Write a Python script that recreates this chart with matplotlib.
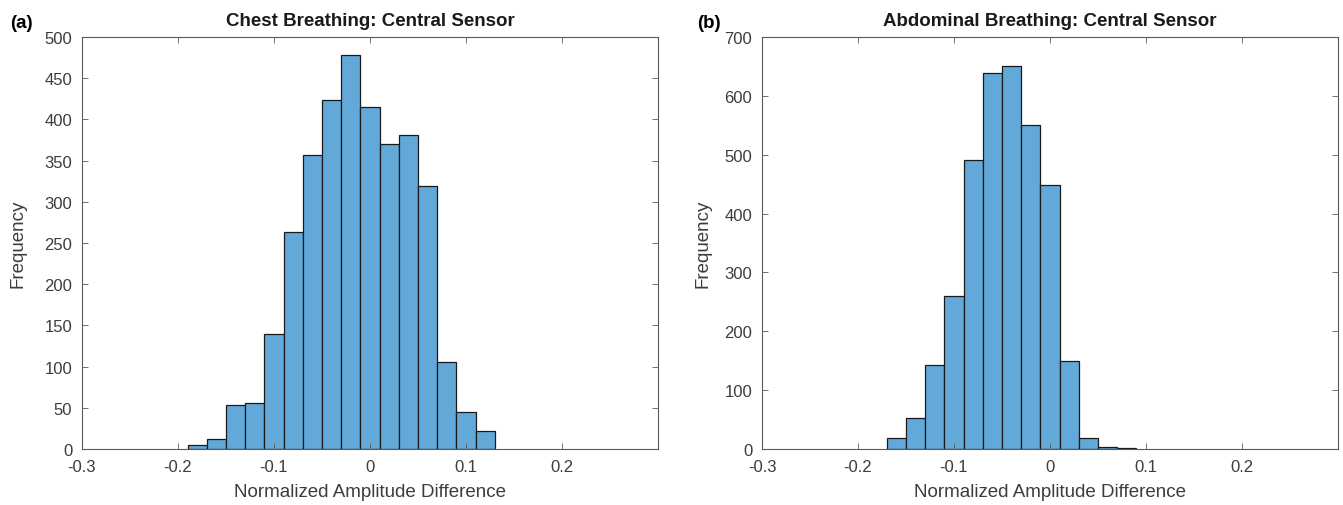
import numpy as np
import matplotlib.pyplot as plt

plt.rcParams['font.family'] = ['Liberation Sans', 'DejaVu Sans']

# Histogram data (bin width 0.02)
chest_edges = np.round(np.arange(-0.19, 0.13 + 0.001, 0.02), 2)
chest_counts = [5, 12, 54, 56, 139, 263, 357, 423, 478, 415, 370, 381, 319, 105, 45, 22]

abd_edges = np.round(np.arange(-0.17, 0.09 + 0.001, 0.02), 2)
abd_counts = [18, 52, 143, 260, 491, 638, 650, 550, 448, 150, 19, 4, 2]

titles = ['Chest Breathing: Central Sensor', 'Abdominal Breathing: Central Sensor']
panel_tags = ['(a)', '(b)']
xticks = [-0.3, -0.2, -0.1, 0, 0.1, 0.2]
xticklabels = ['-0.3', '-0.2', '-0.1', '0', '0.1', '0.2']

bar_color = '#62a8d8'
axis_color = '#5a5a5a'
text_color = '#3c3c3c'

fig = plt.figure(figsize=(13.43, 5.06), dpi=100)
ax1 = fig.add_axes([82 / 1343, 56 / 506, 576 / 1343, 412 / 506])
ax2 = fig.add_axes([762 / 1343, 56 / 506, 576 / 1343, 412 / 506])

panels = [(ax1, chest_edges, chest_counts, 500, 50, -0.111),
          (ax2, abd_edges, abd_counts, 700, 100, -0.102)]

for i, (ax, edges, counts, ymax, ystep, ylab_x) in enumerate(panels):
    widths = np.diff(edges)
    ax.bar(edges[:-1], counts, width=widths, align='edge',
           color=bar_color, edgecolor='#1a1a1a', linewidth=0.9)
    ax.set_xlim(-0.3, 0.3)
    ax.set_ylim(0, ymax)
    ax.set_xticks(xticks)
    ax.set_xticklabels(xticklabels)
    ax.set_yticks(np.arange(0, ymax + 1, ystep))
    ax.tick_params(direction='in', top=True, right=True, labelsize=12,
                   color=axis_color, labelcolor=text_color, length=4, width=0.6, pad=7)
    for sp in ax.spines.values():
        sp.set_color(axis_color)
        sp.set_linewidth(0.8)
    ax.set_xlabel('Normalized Amplitude Difference', fontsize=13.5, color=text_color, va='center')
    ax.xaxis.set_label_coords(0.5, -0.104)
    ax.set_ylabel('Frequency', fontsize=13.5, color=text_color, va='center')
    ax.yaxis.set_label_coords(ylab_x, 0.5)
    ax.set_title(titles[i], fontsize=13.5, fontweight='bold', color='#1a1a1a', pad=9)

fig.text(10 / 1343, 1 - 24 / 506, panel_tags[0], fontsize=13.5, fontweight='bold', va='center')
fig.text(697 / 1343, 1 - 24 / 506, panel_tags[1], fontsize=13.5, fontweight='bold', va='center')

fig.savefig('out.png', dpi=100)
